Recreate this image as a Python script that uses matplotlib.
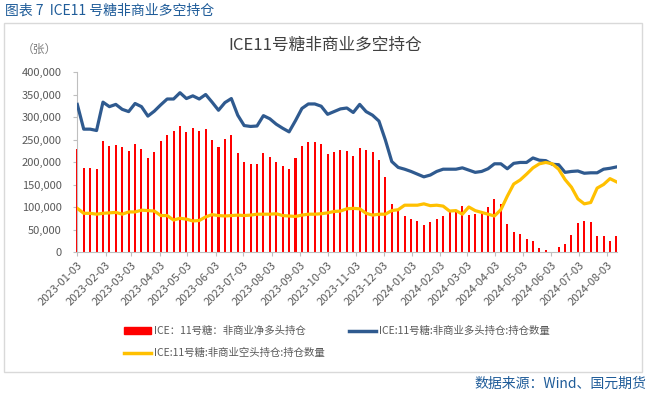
import pandas as pd
import matplotlib
matplotlib.use('Agg')
import matplotlib.pyplot as plt
from matplotlib.lines import Line2D
from matplotlib.patches import Patch, Rectangle
from matplotlib.ticker import FuncFormatter

plt.rcParams['font.family'] = ['Noto Sans CJK SC', 'DejaVu Sans']

# 周度数据（CFTC，每周二）
dates = pd.date_range('2023-01-03', periods=85, freq='7D')

net_long = [228000, 187000, 187000, 184000, 247000, 236000, 238000, 233000, 224000, 240000,
            230000, 210000, 222000, 247000, 259000, 269000, 279000, 267000, 276000, 270000,
            273000, 250000, 233000, 251000, 261000, 219000, 199000, 196000, 196000, 219000,
            211000, 199000, 191000, 185000, 208000, 236000, 244000, 244000, 239000, 217000,
            222000, 227000, 225000, 213000, 232000, 227000, 222000, 205000, 166000, 107000,
            92000, 79000, 74000, 69000, 61000, 67000, 73000, 81000, 92000, 90000,
            102000, 82000, 84000, 90000, 100000, 117000, 106000, 62000, 44000, 40000,
            28000, 25000, 8000, 4000, -3000, 11000, 18000, 37000, 64000, 68000,
            67000, 35000, 36000, 25000, 35000]

long_pos = [328000, 273000, 273000, 270000, 333000, 323000, 328000, 317000, 312000, 330000,
            323000, 302000, 313000, 327000, 340000, 340000, 354000, 341000, 347000, 340000,
            350000, 333000, 315000, 332000, 341000, 304000, 281000, 279000, 280000, 303000,
            296000, 284000, 275000, 267000, 292000, 319000, 329000, 329000, 324000, 306000,
            312000, 318000, 320000, 310000, 328000, 312000, 304000, 291000, 249000, 201000,
            188000, 184000, 179000, 173000, 167000, 171000, 179000, 184000, 184000, 184000,
            187000, 182000, 177000, 179000, 185000, 196000, 196000, 185000, 197000, 199000,
            199000, 209000, 204000, 203000, 195000, 194000, 177000, 179000, 180000, 175000,
            176000, 176000, 184000, 186000, 189000]

short_pos = [97000, 86000, 86000, 84000, 86000, 87000, 88000, 84000, 89000, 89000,
             93000, 92000, 91000, 81000, 81000, 71000, 75000, 73000, 69000, 70000,
             78000, 83000, 81000, 80000, 81000, 82000, 81000, 82000, 84000, 84000,
             84000, 85000, 81000, 80000, 79000, 82000, 84000, 84000, 85000, 87000,
             90000, 91000, 96000, 97000, 96000, 86000, 82000, 84000, 84000, 92000,
             94000, 104000, 104000, 104000, 107000, 103000, 104000, 102000, 91000, 92000,
             84000, 100000, 92000, 88000, 84000, 80000, 94000, 124000, 151000, 160000,
             173000, 187000, 196000, 199000, 196000, 184000, 161000, 144000, 118000, 107000,
             110000, 142000, 150000, 163000, 156000]

labels = ['ICE：11号糖：非商业净多头持仓',
          'ICE:11号糖:非商业多头持仓:持仓数量',
          'ICE:11号糖:非商业空头持仓:持仓数量']

red = '#FF0000'
blue = '#2F5A8F'
yellow = '#FFC000'
gray_txt = '#595959'
axis_gray = '#BFBFBF'
title_blue = '#1F5C99'

fig = plt.figure(figsize=(6.49, 3.95), dpi=100)
ax = fig.add_axes([77 / 649, 143 / 395, 540 / 649, 180 / 395])

bars = ax.bar(dates, net_long, width=2.2, color=red, zorder=2)
for b in bars:
    b.set_clip_on(False)
ax.plot(dates, long_pos, color=blue, lw=2.3, zorder=3, solid_joinstyle='round')
ax.plot(dates, short_pos, color=yellow, lw=2.3, zorder=3, solid_joinstyle='round')

ax.set_ylim(0, 400000)
ax.set_yticks(range(0, 400001, 50000))
ax.yaxis.set_major_formatter(FuncFormatter(lambda v, p: f'{int(v):,}'))
ax.set_xlim(dates[0] - pd.Timedelta(hours=8), dates[-1] + pd.Timedelta(hours=16))

xt = pd.date_range('2023-01-01', '2024-08-01', freq='MS') + pd.Timedelta(days=2)
ax.set_xticks(xt)
ax.set_xticklabels([d.strftime('%Y-%m-%d') for d in xt], rotation=45, ha='right',
                   va='top', rotation_mode='anchor')

for s in ['top', 'right']:
    ax.spines[s].set_visible(False)
for s in ['left', 'bottom']:
    ax.spines[s].set_color(axis_gray)
    ax.spines[s].set_linewidth(0.8)
ax.tick_params(axis='y', colors=axis_gray, labelcolor=gray_txt, labelsize=8, length=3, pad=8)
ax.tick_params(axis='x', colors=axis_gray, labelcolor=gray_txt, labelsize=8, length=3, pad=3)

# 外框与文字
fig.patches.append(Rectangle((4 / 649, 1 - 372 / 395), 638 / 649, 349 / 395,
                             transform=fig.transFigure, fill=False,
                             edgecolor='#D9D9D9', lw=1))
fig.text(5 / 649, 1 - 11 / 395, '图表 7  ICE11 号糖非商业多空持仓', color=title_blue,
         fontsize=10, fontweight='medium', va='center', ha='left')
fig.text(325 / 649, 1 - 45 / 395, 'ICE11号糖非商业多空持仓', color='#404040',
         fontsize=12, va='center', ha='center')
fig.text(22 / 649, 1 - 49 / 395, '（张）', color='#7F7F7F', fontsize=8.5,
         va='center', ha='left')
fig.text(646 / 649, 1 - 384 / 395, '数据来源：Wind、国元期货', color=title_blue,
         fontsize=10, va='center', ha='right')

handles = [Patch(facecolor=red, edgecolor=red),
           Line2D([], [], color=yellow, lw=2.5),
           Line2D([], [], color=blue, lw=2.5)]
fig.legend(handles, [labels[0], labels[2], labels[1]], ncol=2, frameon=False,
           loc='upper left', bbox_to_anchor=(124 / 649, 1 - 326 / 395),
           fontsize=7.5, labelcolor=gray_txt, borderpad=0, borderaxespad=0,
           handlelength=2.6, handleheight=0.6, handletextpad=0.3,
           columnspacing=2.3, labelspacing=1.15)

fig.savefig('out.png', dpi=100)
